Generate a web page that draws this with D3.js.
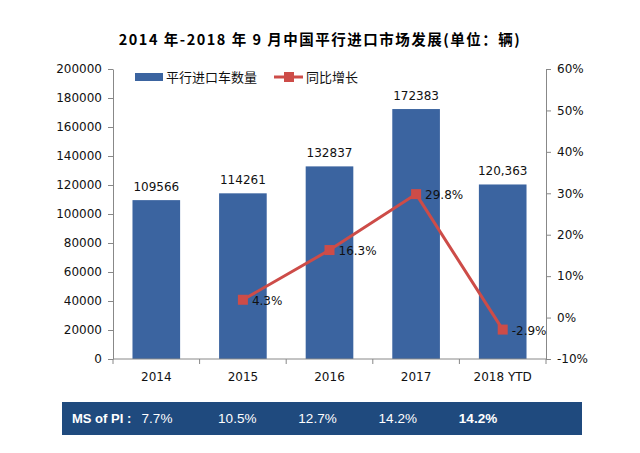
<!DOCTYPE html>
<html><head><meta charset="utf-8">
<script src="https://cdn.jsdelivr.net/npm/d3@7"></script>
<style>body{margin:0;background:#fff}svg{display:block}</style>
</head><body>
<svg id="c" width="640" height="453"></svg>
<script>
const categories = ["2014","2015","2016","2017","2018 YTD"];
const volumes = [109566,114261,132837,172383,120363];
const volumeLabels = ["109566","114261","132837","172383","120,363"];
const growth = [null,4.3,16.3,29.8,-2.9];
const shareLabel = "MS of PI :";
const shares = ["7.7%","10.5%","12.7%","14.2%","14.2%"];
const leftTicks = [0,20000,40000,60000,80000,100000,120000,140000,160000,180000,200000];
const rightTicks = [-10,0,10,20,30,40,50,60];
const title = "2014 年-2018 年 9 月中国平行进口市场发展(单位：辆)";
const legendNames = ["平行进口车数量","同比增长"];

const barColor = "#3b64a0", lineColor = "#cd4c48", bandColor = "#1f4a7e";
const svg = d3.select("#c");
const m = {l:113, r:546, t:69, b:359};
const font = "'DejaVu Sans', Verdana, sans-serif";
const cjk = "'Noto Sans CJK SC', sans-serif";

const x = d3.scaleBand().domain(categories).range([m.l, m.r]).paddingInner(0.45).paddingOuter(0.225);
const xb = d3.scaleBand().domain(categories).range([m.l, m.r]);
const y = d3.scaleLinear().domain([0,200000]).range([m.b, m.t]);
const y2 = d3.scaleLinear().domain([-10,60]).range([m.b, m.t]);

// title
svg.append("text").attr("x",320).attr("y",45).attr("text-anchor","middle")
  .style("font-family",cjk).style("font-weight","bold").style("font-size","14.5px").style("letter-spacing","1.5px").text(title);

// bars
svg.selectAll("rect.bar").data(categories).join("rect").attr("class","bar")
  .attr("x",d=>x(d)).attr("width",x.bandwidth())
  .attr("y",(d,i)=>y(volumes[i])).attr("height",(d,i)=>y(0)-y(volumes[i])).attr("fill",barColor);
svg.selectAll("text.bl").data(categories).join("text").attr("class","bl")
  .attr("x",d=>x(d)+x.bandwidth()/2).attr("y",(d,i)=>y(volumes[i])-9).attr("text-anchor","middle")
  .style("font-family",font).style("font-size","12px").attr("fill","#111").text((d,i)=>volumeLabels[i]);

// axes
const axStyle = g => { g.selectAll("path,line").attr("stroke","#888"); g.selectAll("text").style("font-family",font).style("font-size","12px").attr("fill","#111"); };
svg.append("g").attr("transform",`translate(${m.l},0)`)
  .call(d3.axisLeft(y).tickValues(leftTicks).tickSize(5).tickSizeOuter(0).tickPadding(6).tickFormat(d3.format("d"))).call(axStyle);
svg.append("g").attr("transform",`translate(${m.r},0)`)
  .call(d3.axisRight(y2).tickValues(rightTicks).tickSize(5).tickSizeOuter(0).tickPadding(6).tickFormat(d=>d+"%")).call(axStyle);
const xg = svg.append("g").attr("transform",`translate(0,${m.b})`)
  .call(d3.axisBottom(xb).tickSize(0).tickPadding(13)).call(axStyle);
xg.select("path").attr("d",`M${m.l},0H${m.r}`);
svg.append("g").selectAll("line").data(d3.range(categories.length+1)).join("line")
  .attr("x1",i=>m.l+i*xb.step()).attr("x2",i=>m.l+i*xb.step()).attr("y1",m.b).attr("y2",m.b+5).attr("stroke","#888");

// line
const pts = categories.map((c,i)=>({c,v:growth[i]})).filter(d=>d.v!==null);
const cx = d => x(d.c)+x.bandwidth()/2;
svg.append("path").datum(pts).attr("fill","none").attr("stroke",lineColor).attr("stroke-width",3)
  .attr("d",d3.line().x(cx).y(d=>y2(d.v)));
svg.selectAll("rect.mk").data(pts).join("rect").attr("class","mk")
  .attr("x",d=>cx(d)-5).attr("y",d=>y2(d.v)-5).attr("width",10).attr("height",10).attr("fill",lineColor);
svg.selectAll("text.pl").data(pts).join("text").attr("class","pl")
  .attr("x",d=>cx(d)+9).attr("y",d=>y2(d.v)+5)
  .style("font-family",font).style("font-size","12px").attr("fill","#111").text(d=>d.v.toFixed(1)+"%");

// legend
const lg = svg.append("g");
lg.append("rect").attr("x",135).attr("y",73).attr("width",28).attr("height",8).attr("fill",barColor);
lg.append("text").attr("x",166).attr("y",82).style("font-family",cjk).style("font-size","13px").attr("fill","#111").text(legendNames[0]);
lg.append("line").attr("x1",274).attr("x2",303).attr("y1",77).attr("y2",77).attr("stroke",lineColor).attr("stroke-width",3);
lg.append("rect").attr("x",284).attr("y",72).attr("width",10).attr("height",10).attr("fill",lineColor);
lg.append("text").attr("x",306).attr("y",82).style("font-family",cjk).style("font-size","13px").attr("fill","#111").text(legendNames[1]);

// share band
svg.append("rect").attr("x",62).attr("y",402).attr("width",520).attr("height",33).attr("fill",bandColor);
svg.append("text").attr("x",72).attr("y",423).style("font-family","'Liberation Sans', Arial, sans-serif").style("font-weight","bold").style("font-size","13px").attr("fill","#fff").text(shareLabel);
const xs = d3.scalePoint().domain(categories).range([157,478]);
svg.selectAll("text.sh").data(categories).join("text").attr("class","sh")
  .attr("x",d=>xs(d)).attr("y",423).attr("text-anchor","middle")
  .style("font-family","'Liberation Sans', Arial, sans-serif").style("font-size","13.5px")
  .style("font-weight",(d,i)=>i===categories.length-1?"bold":"normal").attr("fill","#fff").text((d,i)=>shares[i]);
</script>
</body></html>
